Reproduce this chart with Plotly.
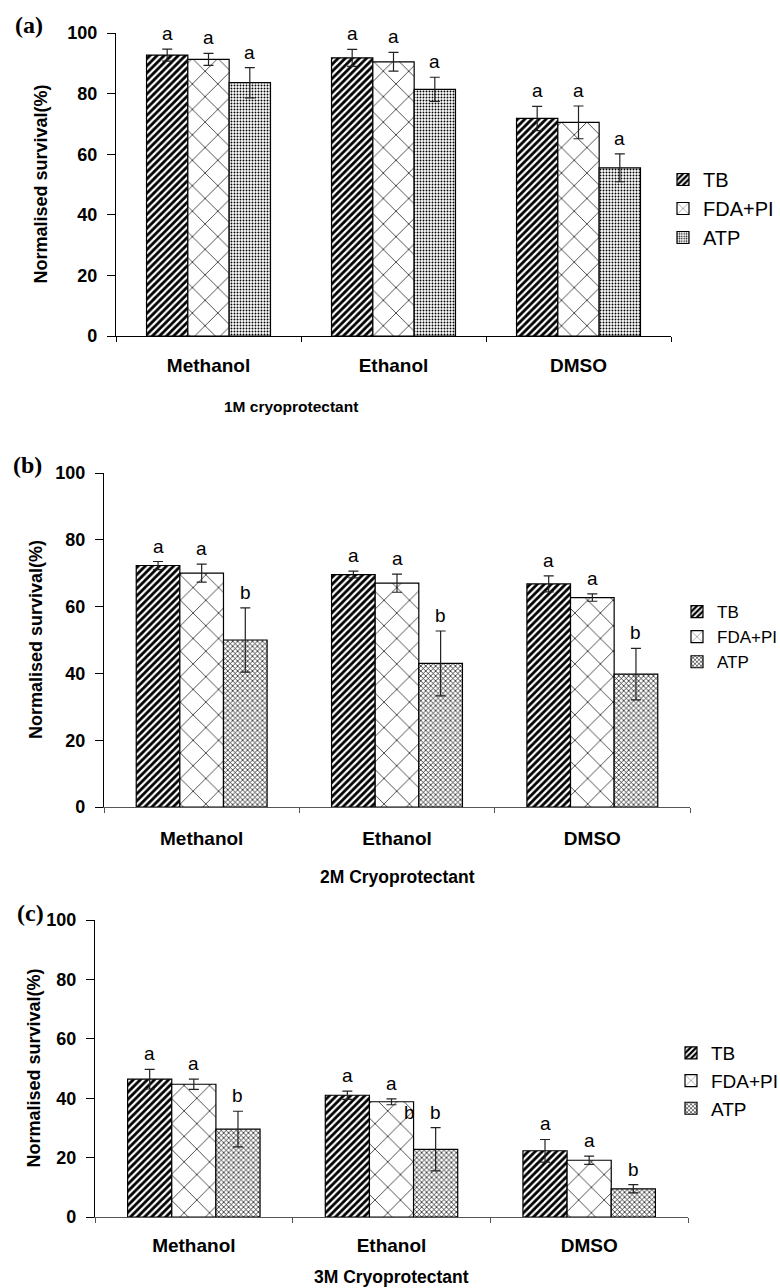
import plotly.graph_objects as go

# ---------------- data ----------------
categories = ["Methanol", "Ethanol", "DMSO"]
series_names = ["TB", "FDA+PI", "ATP"]

a_tb = [92.7, 91.8, 71.8]
a_tb_err = [2.0, 2.8, 4.0]
a_fda = [91.3, 90.5, 70.5]
a_fda_err = [2.0, 3.1, 5.4]
a_atp = [83.6, 81.4, 55.5]
a_atp_err = [5.0, 4.0, 4.6]
a_letters = [["a", "a", "a"], ["a", "a", "a"], ["a", "a", "a"]]  # per series, per category

b_tb = [72.3, 69.6, 66.8]
b_tb_err = [1.2, 1.0, 2.4]
b_fda = [70.0, 67.0, 62.7]
b_fda_err = [2.7, 2.7, 1.1]
b_atp = [50.0, 43.0, 39.8]
b_atp_err = [9.6, 9.7, 7.7]
b_letters = [["a", "a", "a"], ["a", "a", "a"], ["b", "b", "b"]]

c_tb = [46.4, 41.0, 22.3]
c_tb_err = [3.3, 1.4, 3.8]
c_fda = [44.7, 38.8, 19.1]
c_fda_err = [1.7, 1.0, 1.4]
c_atp = [29.6, 22.8, 9.5]
c_atp_err = [6.0, 7.3, 1.4]
c_letters = [["a", "a", "a"], ["a", "a", "a"], ["b", "b", "b"]]

y_ticks = [0, 20, 40, 60, 80, 100]
x_titles = ["1M cryoprotectant", "2M Cryoprotectant", "3M Cryoprotectant"]
panel_tags = ["(a)", "(b)", "(c)"]
y_title = "Normalised survival(%)"

# ---------------- layout geometry ----------------
W, H = 780, 1288
BARGAP = 0.33
FONT = "Arial, Liberation Sans, sans-serif"

# pixel boxes of plot areas: (x0, x1, ytop, ybottom)
boxes = [(116, 671, 33, 336), (104, 690, 473, 807), (95, 688, 920, 1217)]

def xd(x0, x1):
    return [x0 / W, x1 / W]

def yd(yt, yb):
    return [1 - yb / H, 1 - yt / H]

patterns = [
    dict(shape="/", size=5, solidity=0.56, fgcolor="black", bgcolor="white", fillmode="replace"),
    dict(shape="x", size=18, solidity=0.075, fgcolor="black", bgcolor="white", fillmode="replace"),
]
atp_pattern_a = dict(shape=".", size=3, solidity=0.32, fgcolor="black", bgcolor="white", fillmode="replace")
atp_pattern_bc = dict(shape="x", size=3.5, solidity=0.36, fgcolor="black", bgcolor="white", fillmode="replace")

panels = [
    dict(vals=[a_tb, a_fda, a_atp], errs=[a_tb_err, a_fda_err, a_atp_err], letters=a_letters,
         pats=patterns + [atp_pattern_a]),
    dict(vals=[b_tb, b_fda, b_atp], errs=[b_tb_err, b_fda_err, b_atp_err], letters=b_letters,
         pats=patterns + [atp_pattern_bc]),
    dict(vals=[c_tb, c_fda, c_atp], errs=[c_tb_err, c_fda_err, c_atp_err], letters=c_letters,
         pats=patterns + [atp_pattern_bc]),
]

fig = go.Figure()
annotations = []
legend_tops = [160, 594, 1034]
legend_x = [663, 677, 671]
legend_font = [20, 17, 19]
legend_names = ["legend", "legend2", "legend3"]
ytitle_x = [40, 36, 33]
xtitle_pos = [(291, 406), (397, 877), (391, 1277)]
xtitle_size = [15.5, 17.5, 17.5]
tag_pos = [(29, 25), (28, 465), (31, 913)]
cat_standoff = [12, 14, 11]

bw = (1 - BARGAP) / 3
offsets = [-bw, 0, bw]

for p, panel in enumerate(panels):
    sfx = "" if p == 0 else str(p + 1)
    xa, ya = "x" + sfx, "y" + sfx
    for s in range(3):
        fig.add_trace(go.Bar(
            x=categories, y=panel["vals"][s], name=series_names[s],
            xaxis=xa, yaxis=ya, legend=legend_names[p], offsetgroup=str(s),
            marker=dict(color="white", pattern=panel["pats"][s],
                        line=dict(color="black", width=1.2)),
            error_y=dict(type="data", array=panel["errs"][s], symmetric=True,
                         color="#222", thickness=1.2, width=5),
        ))
        for i in range(3):
            annotations.append(dict(
                x=i + offsets[s], y=panel["vals"][s][i] + panel["errs"][s][i],
                xref=xa, yref=ya, text=panel["letters"][s][i], showarrow=False,
                yanchor="bottom", yshift=3,
                font=dict(family=FONT, size=19, color="black")))
    x0, x1, yt, yb = boxes[p]
    line_col = "black" if p == 0 else "#555"
    fig.update_layout(**{
        "xaxis" + sfx: dict(domain=xd(x0, x1), anchor=ya, type="category",
                            categoryorder="array", categoryarray=categories,
                            tickson="boundaries", ticks="outside", ticklen=5,
                            tickcolor=line_col, showline=True, linecolor=line_col,
                            linewidth=1.2, showgrid=False, zeroline=False,
                            ticklabelstandoff=cat_standoff[p], automargin=False,
                            tickfont=dict(family=FONT, size=19, color="black", weight="bold")),
        "yaxis" + sfx: dict(domain=yd(yt, yb), anchor=xa, range=[0, 100],
                            tickvals=y_ticks, ticks="outside", ticklen=8,
                            tickcolor="black", showline=True, linecolor="black",
                            linewidth=1.2, showgrid=False, zeroline=False,
                            ticklabelstandoff=6, automargin=False,
                            tickfont=dict(family=FONT, size=18, color="black", weight="bold")),
        legend_names[p]: dict(x=legend_x[p] / W, y=1 - legend_tops[p] / H, xanchor="left",
                              yanchor="top", xref="paper", yref="paper",
                              bgcolor="rgba(0,0,0,0)",
                              font=dict(family=FONT, size=legend_font[p], color="black"),
                              itemwidth=30, tracegroupgap=0),
    })
    # y title
    annotations.append(dict(x=ytitle_x[p] / W, y=0.5, xref="paper", yref=ya + " domain",
                            text=y_title, textangle=-90, showarrow=False,
                            xanchor="center", yanchor="middle",
                            font=dict(family=FONT, size=18, color="black", weight="bold")))
    # x title
    annotations.append(dict(x=xtitle_pos[p][0] / W, y=1 - xtitle_pos[p][1] / H, xref="paper",
                            yref="paper", text=x_titles[p], showarrow=False,
                            xanchor="center", yanchor="middle",
                            font=dict(family=FONT, size=xtitle_size[p], color="black",
                                      weight="bold")))
    # panel tag
    annotations.append(dict(x=tag_pos[p][0] / W, y=1 - tag_pos[p][1] / H, xref="paper",
                            yref="paper", text=panel_tags[p], showarrow=False,
                            xanchor="center", yanchor="middle",
                            font=dict(family="Liberation Serif, Times New Roman, serif",
                                      size=24, color="black", weight="bold")))

# stray "b" printed over the Ethanol FDA+PI bar in panel (c)
annotations.append(dict(x=1 + bw * 0.4, y=c_atp[1] + c_atp_err[1], xref="x3", yref="y3",
                        text="b", showarrow=False, yanchor="bottom", yshift=3,
                        font=dict(family=FONT, size=19, color="black")))

fig.update_layout(
    width=W, height=H, margin=dict(l=0, r=0, t=0, b=0, autoexpand=False),
    paper_bgcolor="white", plot_bgcolor="white",
    barmode="group", bargap=BARGAP, bargroupgap=0,
    annotations=annotations, showlegend=True,
)

fig.write_html("out.html")
